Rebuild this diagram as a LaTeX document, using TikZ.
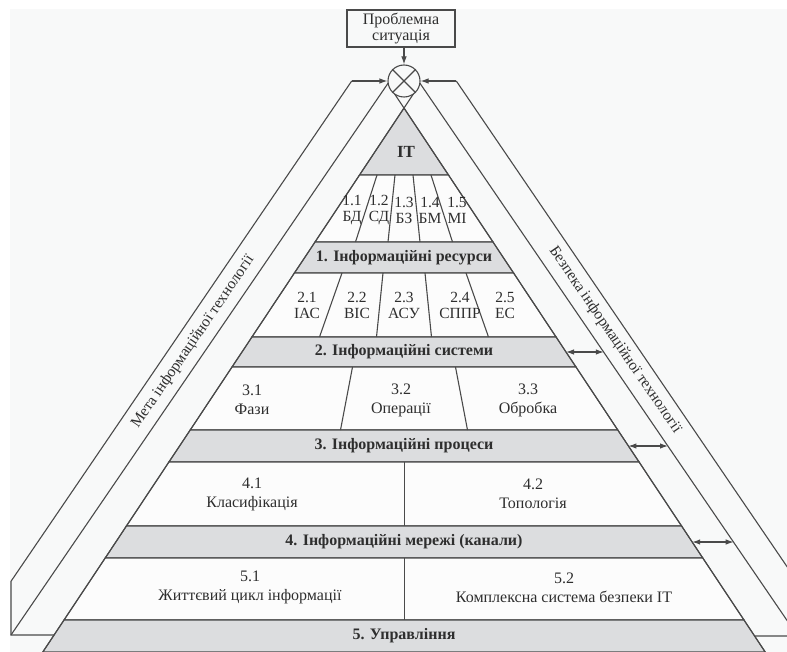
\documentclass[tikz,border=0pt]{standalone}
\usepackage{fontspec}
\setmainfont{Liberation Serif}
\usetikzlibrary{arrows.meta}
\definecolor{bgc}{HTML}{F8F9F9}
\definecolor{cellc}{HTML}{FCFCFC}
\definecolor{bandc}{HTML}{DCDDDF}
\definecolor{linec}{HTML}{4A4A4A}
\definecolor{txtc}{HTML}{2E2E2E}
\tikzset{
  ln/.style={draw=linec, line width=1.1pt, line join=miter},
  cellbox/.style={ln, fill=cellc},
  bandbox/.style={ln, fill=bandc},
  celltxt/.style={inner sep=0pt, align=center, text=txtc, font=\fontsize{16}{19}\selectfont},
  smalltxt/.style={inner sep=0pt, align=center, text=txtc, font=\fontsize{15.5}{16}\selectfont},
  bandtxt/.style={inner sep=0pt, text=txtc, font=\fontsize{16}{18}\selectfont\bfseries},
  striptxt/.style={inner sep=0pt, text=txtc, font=\fontsize{15.5}{18}\selectfont},
  arr/.style={ln, -{Latex[length=8pt,width=5.5pt]}},
  dbl/.style={ln, {Latex[length=8pt,width=5.5pt]}-{Latex[length=8pt,width=5.5pt]}},
}
\begin{document}
\begin{tikzpicture}[x=1pt,y=-1pt]
\useasboundingbox (0,0) rectangle (787,652);
\clip (0,0) rectangle (787,652);
\fill[white] (0,0) rectangle (787,652);
\fill[bgc] (10,9) rectangle (787,652);

% pyramid levels
\path[bandbox] (404,108) -- (448.5,175) -- (359.5,175) -- cycle;
\path[cellbox] (359.5,175) -- (448.5,175) -- (493.0,242) -- (315.0,242) -- cycle;
\path[bandbox] (315.0,242) -- (493.0,242) -- (513.6,273) -- (294.4,273) -- cycle;
\path[cellbox] (294.4,273) -- (513.6,273) -- (556.1,337) -- (251.9,337) -- cycle;
\path[bandbox] (251.9,337) -- (556.1,337) -- (576.0,367) -- (232.0,367) -- cycle;
\path[cellbox] (232.0,367) -- (576.0,367) -- (617.8,430) -- (190.2,430) -- cycle;
\path[bandbox] (190.2,430) -- (617.8,430) -- (639.1,462) -- (168.9,462) -- cycle;
\path[cellbox] (168.9,462) -- (639.1,462) -- (681.6,526) -- (126.4,526) -- cycle;
\path[bandbox] (126.4,526) -- (681.6,526) -- (702.8,558) -- (105.2,558) -- cycle;
\path[cellbox] (105.2,558) -- (702.8,558) -- (744.0,620) -- (64.0,620) -- cycle;
\path[bandbox] (64.0,620) -- (744.0,620) -- (765.2,652) -- (42.8,652) -- cycle;

% pyramid edges extended to the circle
\draw[ln] (42.8,652) -- (416,90);
\draw[ln] (765.2,652) -- (392,90);

% dividers row 1
\draw[ln] (377,175) -- (355.5,242);
\draw[ln] (395,175) -- (388,242);
\draw[ln] (413,175) -- (420,242);
\draw[ln] (431,175) -- (452.5,242);
% dividers row 2
\draw[ln] (342,273) -- (319.5,337);
\draw[ln] (383,273) -- (376.5,337);
\draw[ln] (425,273) -- (431.5,337);
\draw[ln] (466,273) -- (488.5,337);
% dividers row 3
\draw[ln] (352.5,367) -- (340.5,430);
\draw[ln] (455.5,367) -- (467.5,430);
% dividers rows 4, 5
\draw[ln] (404.5,462) -- (404.5,526);
\draw[ln] (404.5,558) -- (404.5,620);

% strips
\coordinate (lt) at (351.7,81);
\coordinate (rt) at (456.3,81);
\draw[ln] (lt) -- (11,581.3) -- (11,635) -- (54.1,635);
\draw[ln] (393,76) -- (11,635);
\draw[ln] (rt) -- (797,581.3) -- (797,636) -- (754.6,636);
\draw[ln] (415,76) -- (797,635);

% summing junction
\node[circle, ln, fill=bgc, minimum size=32pt, inner sep=0pt] (sum) at (404,81) {};
\draw[ln] (sum.north west) -- (sum.south east);
\draw[ln] (sum.north east) -- (sum.south west);

% problem box
\node[ln, fill=bgc, minimum width=108pt, minimum height=37pt, inner sep=0pt, align=center,
      text=txtc, font=\fontsize{16}{15.5}\selectfont] (box) at (401,28.5) {Проблемна\\ситуація};
\draw[arr] (box.south -| sum.north) -- (sum.north);
\draw[arr] (lt) -- (sum.west);
\draw[arr] (rt) -- (sum.east);

% double arrows
\coordinate (p2) at (566.0,352);
\coordinate (s2) at (603.8,352);
\coordinate (p3) at (628.4,446);
\coordinate (s3) at (668.0,446);
\coordinate (p4) at (692.2,542);
\coordinate (s4) at (733.7,542);
\draw[dbl] (p2) -- (s2);
\draw[dbl] (p3) -- (s3);
\draw[dbl] (p4) -- (s4);

% texts
\node[bandtxt, font=\fontsize{17}{18}\selectfont\bfseries] (it) at (406,152) {IT};
\node[smalltxt] (c11) at (352,210) {1.1\\БД};
\node[smalltxt] (c12) at (379,210) {1.2\\СД};
\node[smalltxt] (c13) at (404,210) {1.3\\БЗ};
\node[smalltxt] (c14) at (430,210) {1.4\\БМ};
\node[smalltxt] (c15) at (457,210) {1.5\\МІ};
\node[bandtxt] (b1) at (404,257.5) {1. Інформаційні ресурси};
\node[smalltxt] (c21) at (307,305) {2.1\\ІАС};
\node[smalltxt] (c22) at (357,305) {2.2\\ВІС};
\node[smalltxt] (c23) at (404,305) {2.3\\АСУ};
\node[smalltxt] (c24) at (460,305) {2.4\\СППР};
\node[smalltxt] (c25) at (505,305) {2.5\\ЕС};
\node[bandtxt] (b2) at (404,352) {2. Інформаційні системи};
\node[celltxt] (c31) at (252,400) {3.1\\Фази};
\node[celltxt] (c32) at (401,400) {3.2\\Операції};
\node[celltxt] (c33) at (528,400) {3.3\\Обробка};
\node[bandtxt] (b3) at (404,446) {3. Інформаційні процеси};
\node[celltxt] (c41) at (252,494) {4.1\\Класифікація};
\node[celltxt] (c42) at (533,494) {4.2\\Топологія};
\node[bandtxt] (b4) at (404,542) {4. Інформаційні мережі (канали)};
\node[celltxt] (c51) at (250,587.5) {5.1\\Життєвий цикл інформації};
\node[celltxt] (c52) at (564,587.5) {5.2\\Комплексна система безпеки IT};
\node[bandtxt] (b5) at (404,636) {5. Управління};

\node[striptxt, rotate=55.6] (meta) at (193,342) {Мета інформаційної технології};
\node[striptxt, rotate=-55.6] (bezp) at (615,340) {Безпека інформаційної технології};
\end{tikzpicture}
\end{document}
